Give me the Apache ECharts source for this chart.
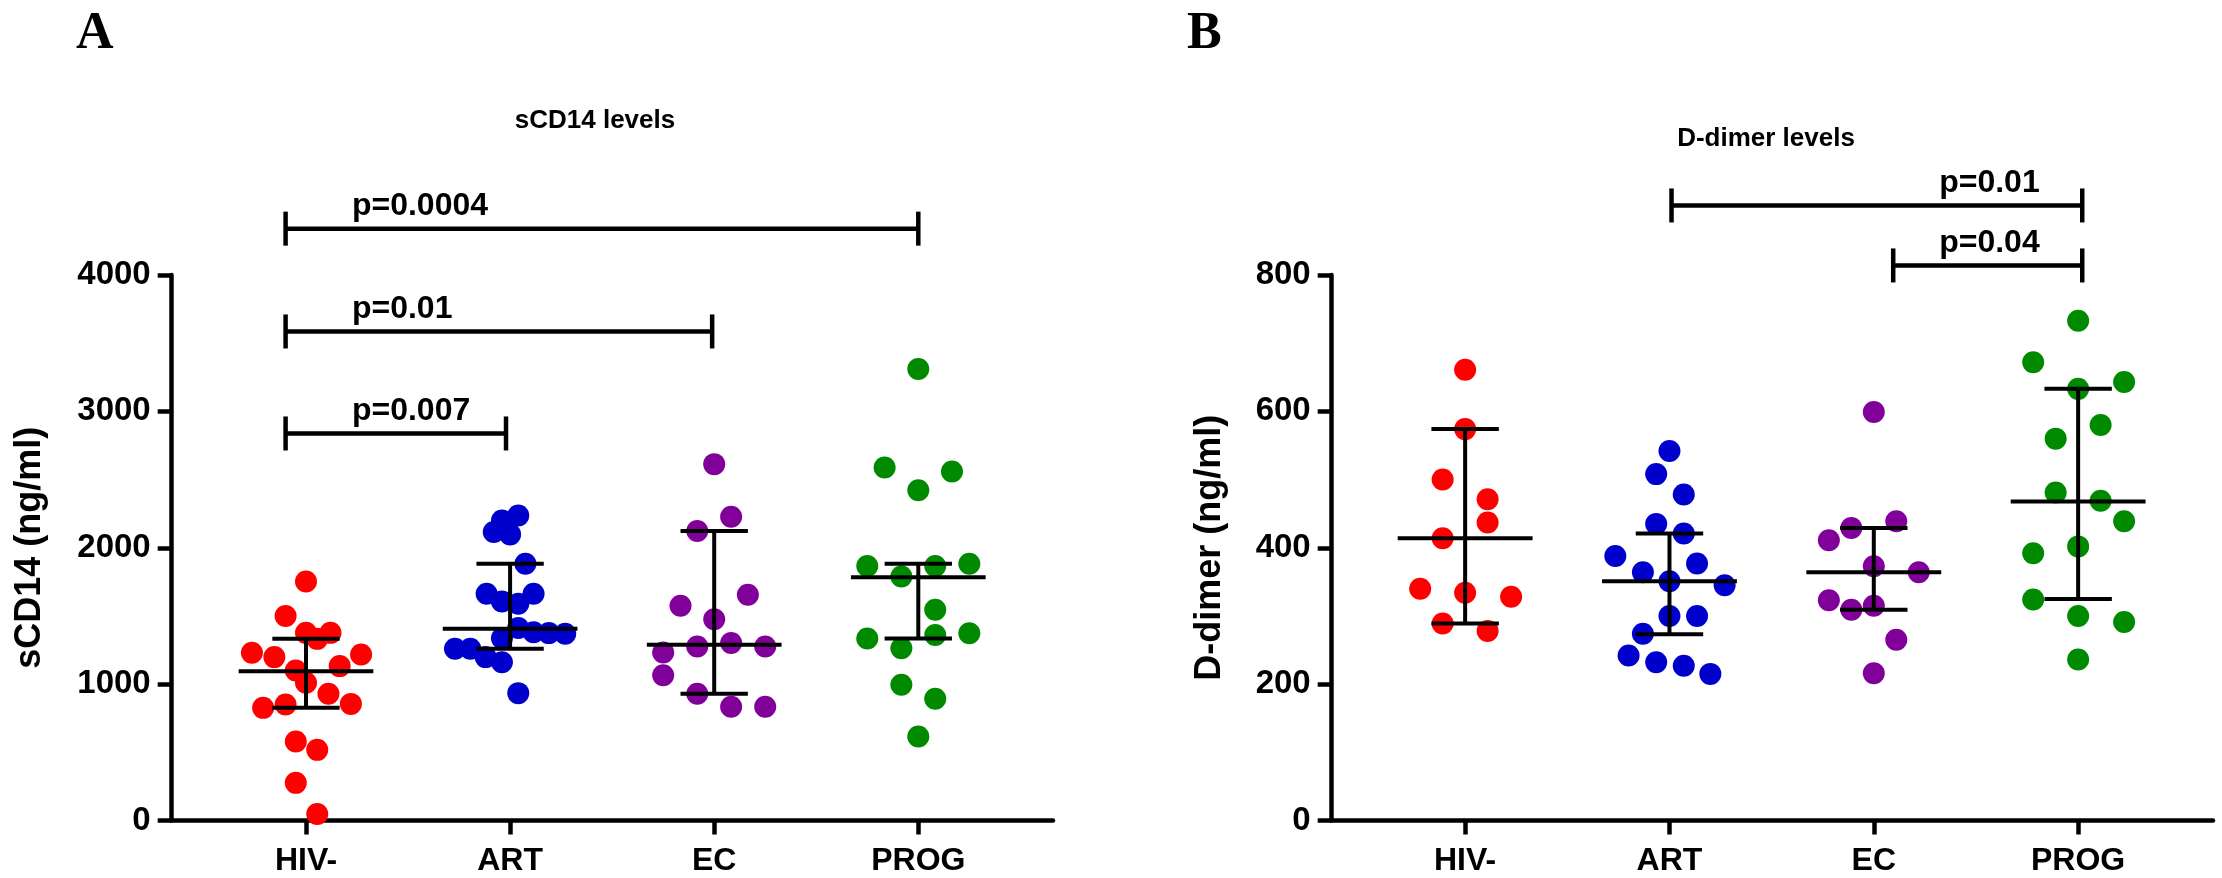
<!DOCTYPE html>
<html lang="en">
<head>
<meta charset="UTF-8">
<title>sCD14 and D-dimer levels</title>
<script src="https://cdn.jsdelivr.net/npm/echarts@6.0.0/dist/echarts.min.js"></script>
<style>html,body{margin:0;padding:0;background:#fff;}</style>
</head>
<body>
<div id="main" style="width:2222px;height:878px;"></div>
<script type="text/javascript">
// categories and tick labels
var categories = ['HIV-', 'ART', 'EC', 'PROG'];
var colors = ['#FF0000', '#0000CC', '#800099', '#008A00'];
var ticksA = [0, 1000, 2000, 3000, 4000];
var ticksB = [0, 200, 400, 600, 800];

// panel A: sCD14 (ng/ml), one array per group, plus horizontal jitter (in category units)
var sCD14_HIV  = [1753, 1499, 1376, 1332, 1376, 1230, 1198, 1217, 1132, 1100, 1010, 929, 826, 850, 855, 579, 518, 276, 48];
var sCD14_ART  = [2237, 2200, 2115, 2098, 1883, 1663, 1606, 1589, 1663, 1411, 1381, 1374, 1369, 1337, 1259, 1259, 1198, 1161, 934];
var sCD14_EC   = [2613, 2228, 2123, 1656, 1574, 1476, 1276, 1301, 1276, 1232, 1065, 929, 834, 834];
var sCD14_PROG = [3311, 2588, 2559, 2421, 1866, 1866, 1882, 1789, 1545, 1335, 1360, 1373, 1263, 996, 893, 616];
var jitA_HIV  = [0, -0.10, 0, 0.055, 0.12, -0.265, -0.155, 0.27, 0.165, -0.05, 0, 0.11, -0.21, -0.10, 0.22, -0.05, 0.055, -0.05, 0.055];
var jitA_ART  = [0.04, -0.04, -0.08, 0, 0.075, -0.115, -0.04, 0.04, 0.115, 0.04, 0.115, 0.19, 0.27, -0.04, -0.27, -0.195, -0.12, -0.04, 0.04];
var jitA_EC   = [0, 0.083, -0.083, 0.165, -0.165, 0, -0.083, 0.083, 0.25, -0.25, -0.25, -0.083, 0.083, 0.25];
var jitA_PROG = [0, -0.165, 0.165, 0, -0.25, 0.083, 0.25, -0.083, 0.083, -0.25, 0.083, 0.25, -0.083, -0.083, 0.083, 0];
// central line and error bar ends: [center, lower, upper]
var sCD14_summary = [[1095, 826, 1332], [1406, 1259, 1883], [1289, 929, 2123], [1784, 1335, 1882]];
// comparisons: [from, to, height, label, label anchor]
var sCD14_pvalues = [[-0.1, 3.0, 4340, 'p=0.0004', 0.225], [-0.1, 1.99, 3586, 'p=0.01', 0.225], [-0.1, 0.98, 2838, 'p=0.007', 0.225]];

// panel B: D-dimer (ng/ml)
var dd_HIV  = [661, 574, 500, 471, 437, 414, 340, 334, 328, 289, 278];
var dd_ART  = [542, 508, 478, 435, 421, 388, 377, 364, 351, 345, 300, 300, 274, 242, 232, 227, 215];
var dd_EC   = [599, 429, 439, 411, 373, 364, 323, 309, 315, 265, 216];
var dd_PROG = [733, 672, 643, 633, 580, 560, 481, 469, 439, 392, 402, 324, 300, 291, 236];
var jitB_HIV  = [0, 0, -0.11, 0.11, 0.11, -0.11, -0.22, 0, 0.225, -0.11, 0.11];
var jitB_ART  = [0, -0.065, 0.07, -0.065, 0.07, -0.265, 0.135, -0.13, 0, 0.27, 0, 0.135, -0.13, -0.2, -0.065, 0.07, 0.2];
var jitB_EC   = [0, -0.11, 0.11, -0.22, 0, 0.22, -0.22, -0.11, 0, 0.11, 0];
var jitB_PROG = [0, -0.22, 0.225, 0, 0.11, -0.11, -0.11, 0.11, 0.225, -0.22, 0, -0.22, 0, 0.225, 0];
var dd_summary = [[414, 289, 574], [351, 273, 421], [364, 309, 429], [468, 325, 633]];
var dd_pvalues = [[1.01, 3.02, 902, 'p=0.01', 2.32], [2.095, 3.02, 814, 'p=0.04', 2.32]];

var SANS = "'Liberation Sans',Arial,Helvetica,sans-serif";
var SERIF = "'Liberation Serif','Times New Roman',serif";

function pts(values, jit, cat) {
    var out = [];
    for (var i = 0; i < values.length; i++) {
        out.push([cat + jit[i], values[i]]);
    }
    return out;
}

function renderSummary(params, api) {
    var x = api.value(0), m = api.value(1), lo = api.value(2), hi = api.value(3);
    var a = api.coord([x - 0.33, m]), b = api.coord([x + 0.33, m]);
    var c = api.coord([x - 0.165, hi]), d = api.coord([x + 0.165, hi]);
    var e = api.coord([x - 0.165, lo]), f = api.coord([x + 0.165, lo]);
    var top = api.coord([x, hi]), bot = api.coord([x, lo]);
    var ls = {stroke: '#000', lineWidth: 4};
    return {type: 'group', children: [
        {type: 'line', shape: {x1: a[0], y1: a[1], x2: b[0], y2: b[1]}, style: ls},
        {type: 'line', shape: {x1: c[0], y1: c[1], x2: d[0], y2: d[1]}, style: ls},
        {type: 'line', shape: {x1: e[0], y1: e[1], x2: f[0], y2: f[1]}, style: ls},
        {type: 'line', shape: {x1: top[0], y1: top[1], x2: bot[0], y2: bot[1]}, style: ls}
    ]};
}

function makeBracketRenderer(list) {
    return function (params, api) {
        var x1 = api.value(0), x2 = api.value(1), y = api.value(2);
        var p1 = api.coord([x1, y]), p2 = api.coord([x2, y]);
        var t = api.coord([list[params.dataIndex][4], y]);
        var ls = {stroke: '#000', lineWidth: 4.5};
        return {type: 'group', children: [
            {type: 'line', shape: {x1: p1[0], y1: p1[1], x2: p2[0], y2: p2[1]}, style: ls},
            {type: 'line', shape: {x1: p1[0], y1: p1[1] - 17, x2: p1[0], y2: p1[1] + 17}, style: ls},
            {type: 'line', shape: {x1: p2[0], y1: p2[1] - 17, x2: p2[0], y2: p2[1] + 17}, style: ls},
            {type: 'text', style: {text: list[params.dataIndex][3], x: t[0], y: p1[1] - 6,
                align: 'left', verticalAlign: 'bottom', fill: '#000',
                font: 'bold 32px ' + SANS}}
        ]};
    };
}

function xAxisFor(gridIndex, minX) {
    return {
        type: 'value', gridIndex: gridIndex, min: minX, max: 3.66,
        axisLine: {show: true, onZero: false, lineStyle: {color: '#000', width: 4.5}},
        axisTick: {show: true, length: 14, lineStyle: {color: '#000', width: 4.5}, customValues: [0, 1, 2, 3]},
        axisLabel: {show: true, customValues: [0, 1, 2, 3], margin: 25, color: '#000',
            fontWeight: 'bold', fontSize: 32, fontFamily: SANS,
            formatter: function (v) { return categories[Math.round(v)]; }},
        splitLine: {show: false}
    };
}

function yAxisFor(gridIndex, ticks, name, gap) {
    return {
        type: 'value', gridIndex: gridIndex, min: ticks[0], max: ticks[ticks.length - 1],
        interval: ticks[1] - ticks[0],
        name: name, nameLocation: 'middle', nameGap: gap,
        nameTextStyle: {color: '#000', fontWeight: 'bold', fontSize: 36, fontFamily: SANS},
        axisLine: {show: true, onZero: false, lineStyle: {color: '#000', width: 4.5}},
        axisTick: {show: true, length: 14, lineStyle: {color: '#000', width: 4.5}},
        axisLabel: {margin: 21, color: '#000', fontWeight: 'bold', fontSize: 33, fontFamily: SANS,
            formatter: function (v) { return String(v); }},
        splitLine: {show: false}
    };
}

var groupsA = [[sCD14_HIV, jitA_HIV], [sCD14_ART, jitA_ART], [sCD14_EC, jitA_EC], [sCD14_PROG, jitA_PROG]];
var groupsB = [[dd_HIV, jitB_HIV], [dd_ART, jitB_ART], [dd_EC, jitB_EC], [dd_PROG, jitB_PROG]];

var series = [];
[[groupsA, 0], [groupsB, 1]].forEach(function (panel) {
    panel[0].forEach(function (g, k) {
        series.push({
            type: 'scatter', xAxisIndex: panel[1], yAxisIndex: panel[1],
            data: pts(g[0], g[1], k), symbol: 'circle', symbolSize: 22,
            itemStyle: {color: colors[k], opacity: 1}, z: 2, silent: true
        });
    });
});
series.push({
    type: 'custom', xAxisIndex: 0, yAxisIndex: 0, renderItem: renderSummary, z: 3, silent: true,
    data: sCD14_summary.map(function (s, k) { return [k, s[0], s[1], s[2]]; })
});
series.push({
    type: 'custom', xAxisIndex: 1, yAxisIndex: 1, renderItem: renderSummary, z: 3, silent: true,
    data: dd_summary.map(function (s, k) { return [k, s[0], s[1], s[2]]; })
});
series.push({
    type: 'custom', xAxisIndex: 0, yAxisIndex: 0, renderItem: makeBracketRenderer(sCD14_pvalues),
    clip: false, z: 3, silent: true, encode: {x: [0, 1], y: 2},
    data: sCD14_pvalues.map(function (b) { return [b[0], b[1], b[2]]; })
});
series.push({
    type: 'custom', xAxisIndex: 1, yAxisIndex: 1, renderItem: makeBracketRenderer(dd_pvalues),
    clip: false, z: 3, silent: true, encode: {x: [0, 1], y: 2},
    data: dd_pvalues.map(function (b) { return [b[0], b[1], b[2]]; })
});

var chart = echarts.init(document.getElementById('main'), null, {renderer: 'canvas'});
chart.setOption({
    backgroundColor: '#fff',
    animation: false,
    title: [
        {text: 'A', left: 71, top: 4, textStyle: {color: '#000', fontSize: 52, fontWeight: 'bold', fontFamily: SERIF}},
        {text: 'B', left: 1182, top: 4, textStyle: {color: '#000', fontSize: 52, fontWeight: 'bold', fontFamily: SERIF}},
        {text: 'sCD14 levels', left: 590, top: 103, textAlign: 'center', textStyle: {color: '#000', fontSize: 26, fontWeight: 'bold', fontFamily: SANS}},
        {text: 'D-dimer levels', left: 1761, top: 121, textAlign: 'center', textStyle: {color: '#000', fontSize: 26, fontWeight: 'bold', fontFamily: SANS}}
    ],
    grid: [
        {left: 171.7, top: 275, width: 881.3, height: 545.5},
        {left: 1331.7, top: 275, width: 881.3, height: 545.5}
    ],
    xAxis: [xAxisFor(0, -0.658), xAxisFor(1, -0.653)],
    yAxis: [yAxisFor(0, ticksA, 'sCD14 (ng/ml)', 124), yAxisFor(1, ticksB, 'D-dimer (ng/ml)', 104)],
    series: series
});
</script>
</body>
</html>
